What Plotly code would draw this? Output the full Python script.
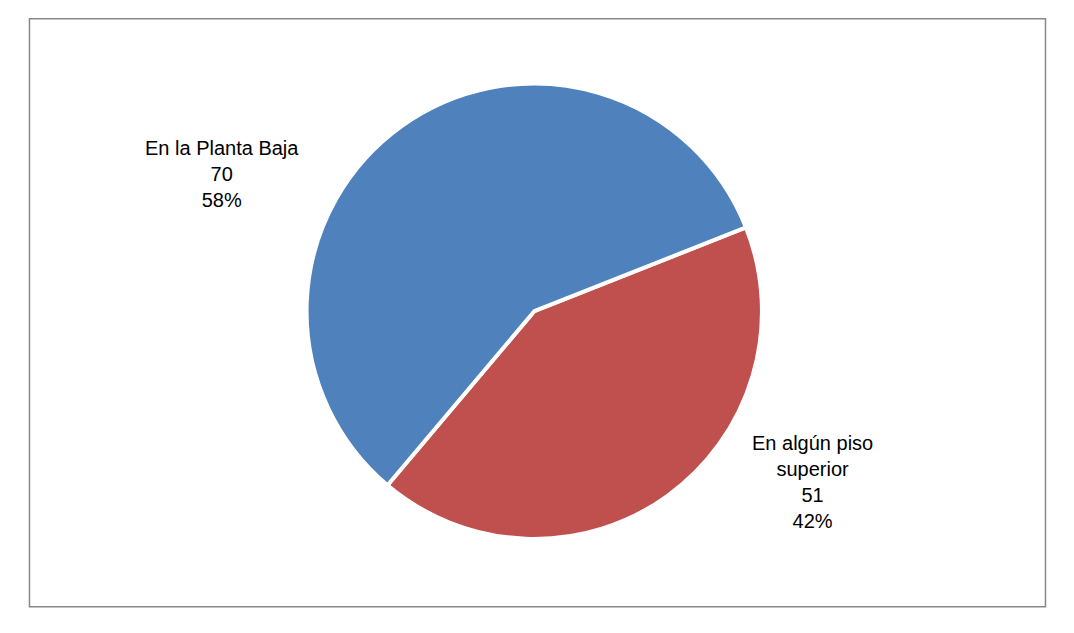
import plotly.graph_objects as go

labels = ["En algún piso superior", "En la Planta Baja"]
label_text = ["En algún piso<br>superior", "En la Planta Baja"]
values = [51, 70]
colors = ["#C0504D", "#4F81BD"]

total = sum(values)
pct = [round(v * 100 / total) for v in values]

fig = go.Figure(go.Pie(
    labels=labels, values=values, sort=False, direction="clockwise",
    rotation=68.4, textinfo="none", hoverinfo="label+value+percent",
    marker=dict(colors=colors, line=dict(color="white", width=4)),
    domain=dict(x=[0.278, 0.702], y=[0.161, 0.881]),
))

# label positions (paper coords) next to each slice
label_pos = [(0.749, 0.251), (0.199, 0.737)]
for txt, v, p, (x, y) in zip(label_text, values, pct, label_pos):
    fig.add_annotation(x=x, y=y, xref="paper", yref="paper", showarrow=False,
                       xanchor="center", yanchor="middle",
                       text=f"{txt}<br>{v}<br>{p}%", align="center",
                       font=dict(size=20, color="black", family="Liberation Sans"))

fig.add_shape(type="rect", xref="paper", yref="paper",
              x0=0.020, x1=0.966, y0=0.054, y1=0.983,
              line=dict(color="#888888", width=1.5))

fig.update_layout(width=1074, height=633, showlegend=False,
                  margin=dict(l=0, r=0, t=0, b=0),
                  paper_bgcolor="white", plot_bgcolor="white")

fig.write_html("out.html")
